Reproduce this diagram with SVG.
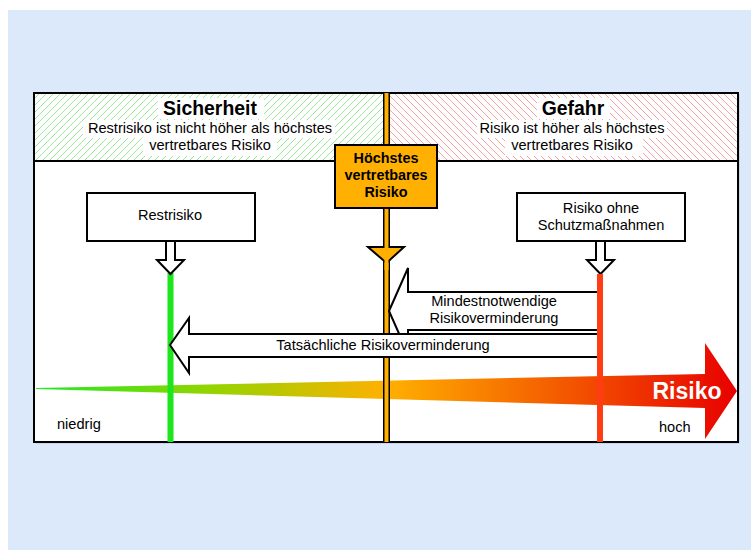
<svg xmlns="http://www.w3.org/2000/svg" width="751" height="550" viewBox="0 0 751 550">
<defs>
<pattern id="hg" patternUnits="userSpaceOnUse" width="7" height="7">
<path d="M-1,1 l2,-2 M0,7 l7,-7 M6,8 l2,-2" stroke="#9be89b" stroke-width="1"/>
</pattern>
<pattern id="hr" patternUnits="userSpaceOnUse" width="7" height="7">
<path d="M-1,6 l2,2 M0,0 l7,7 M6,-1 l2,2" stroke="#f5a3a3" stroke-width="1"/>
</pattern>
<linearGradient id="rg" gradientUnits="userSpaceOnUse" x1="36" y1="0" x2="737" y2="0">
<stop offset="0" stop-color="#22e822"/>
<stop offset="0.25" stop-color="#94d400"/>
<stop offset="0.5" stop-color="#ffb000"/>
<stop offset="0.72" stop-color="#f56400"/>
<stop offset="1" stop-color="#e80000"/>
</linearGradient>
<style>
text{font-family:"Liberation Sans",Arial,sans-serif;fill:#000}
.t{font-size:14.6px;text-anchor:middle}
.h{font-size:19.4px;font-weight:bold;text-anchor:middle}
.ob{font-size:14.4px;font-weight:bold;text-anchor:middle}
.box{fill:#fff;stroke:#000;stroke-width:2}
.wb{fill:#fff}
</style>
</defs>
<rect x="0" y="0" width="751" height="550" fill="#fff"/>
<rect x="8" y="10" width="743" height="540" fill="#dbe9fb"/>
<g id="frame">
<rect x="35.5" y="94.5" width="704" height="349" fill="#8a9bb0" opacity="0.5"/>
<rect x="34" y="93" width="704" height="349" fill="#fff"/>
<rect x="34" y="93" width="350" height="68" fill="url(#hg)"/>
<rect x="389" y="93" width="349" height="68" fill="url(#hr)"/>
<line x1="34" y1="161" x2="738" y2="161" stroke="#000" stroke-width="2"/>
<rect x="34" y="93" width="704" height="349" fill="none" stroke="#000" stroke-width="2"/>
</g>
<g id="sicherheit">
<rect class="wb" x="158" y="98" width="106" height="21"/>
<rect class="wb" x="83" y="120" width="252" height="18"/>
<rect class="wb" x="143" y="138" width="134" height="18"/>
<text class="h" x="210" y="115">Sicherheit</text>
<text class="t" x="210" y="133">Restrisiko ist nicht höher als höchstes</text>
<text class="t" x="210" y="150">vertretbares Risiko</text>
</g>
<g id="gefahr">
<rect class="wb" x="537" y="98" width="73" height="21"/>
<rect class="wb" x="477" y="120" width="190" height="18"/>
<rect class="wb" x="505" y="138" width="138" height="18"/>
<text class="h" x="573" y="115">Gefahr</text>
<text class="t" x="572" y="133">Risiko ist höher als höchstes</text>
<text class="t" x="572" y="150">vertretbares Risiko</text>
</g>
<g id="risiko-pfeil">
<polygon points="36,388 705,374 705,343 737,391 705,439 705,408 36,389" fill="url(#rg)"/>
<text x="687" y="399" style="font-size:23px;font-weight:bold;fill:#fff;text-anchor:middle">Risiko</text>
<text x="57" y="429" style="font-size:14.6px">niedrig</text>
<text x="659" y="432" style="font-size:14.6px">hoch</text>
</g>
<g id="connectors">
<line x1="386.5" y1="93" x2="386.5" y2="442" stroke="#000" stroke-width="7"/>
<line x1="386.5" y1="93" x2="386.5" y2="442" stroke="#ffb000" stroke-width="4"/>
<polygon points="368,247 404,247 386.5,263" fill="#ffb000" stroke="#000" stroke-width="2" stroke-linejoin="miter"/>
<line x1="386.5" y1="246" x2="386.5" y2="270" stroke="#ffb000" stroke-width="4"/>
<line x1="170.5" y1="273" x2="170.5" y2="442" stroke="#1ee61e" stroke-width="6"/>
<polygon points="166,241 175,241 175,260 184,260 170.5,274 157,260 166,260" fill="#fff" stroke="#000" stroke-width="2"/>
<polygon points="596,241 605,241 605,260 614,260 600.5,274 587,260 596,260" fill="#fff" stroke="#000" stroke-width="2"/>
</g>
<g id="hoechstes">
<rect x="335" y="145" width="102" height="63" fill="#ffb000" stroke="#000" stroke-width="2"/>
<text class="ob" x="386" y="163">Höchstes</text>
<text class="ob" x="386" y="180">vertretbares</text>
<text class="ob" x="386" y="197">Risiko</text>
</g>
<g id="restrisiko">
<rect class="box" x="87" y="193" width="168" height="48"/>
<text class="t" x="170" y="220">Restrisiko</text>
</g>
<g id="ohne">
<rect class="box" x="517" y="193" width="168" height="48"/>
<text class="t" x="601" y="213">Risiko ohne</text>
<text class="t" x="601" y="230">Schutzmaßnahmen</text>
</g>
<g id="mindest">
<polygon points="389,311 408,268 408,292 599,292 599,330 408,330 408,354" fill="#fff" stroke="#000" stroke-width="2"/>
<text class="t" x="494" y="306">Mindestnotwendige</text>
<text class="t" x="494" y="323">Risikoverminderung</text>
</g>
<g id="tatsaechlich">
<polygon points="170,345 189,318 189,334 598,334 598,357 189,357 189,373" fill="#fff" stroke="#000" stroke-width="2"/>
<text class="t" x="383" y="350">Tatsächliche Risikoverminderung</text>
</g>
<line x1="600" y1="274" x2="600" y2="442" stroke="#ff3c14" stroke-width="6"/>
</svg>
